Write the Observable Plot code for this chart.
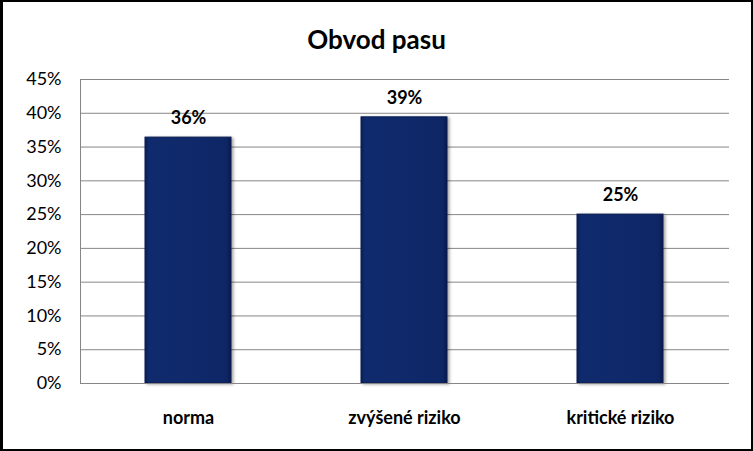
<!DOCTYPE html>
<html>
<head>
<meta charset="utf-8">
<script src="https://cdn.jsdelivr.net/npm/d3@7"></script>
<script src="https://cdn.jsdelivr.net/npm/@observablehq/plot@0.6"></script>
<style>
  html, body { margin: 0; padding: 0; background: #fff; }
  #wrap { position: relative; width: 753px; height: 451px; background: #fff; overflow: hidden; font-family: Lato, "Open Sans", sans-serif; }
  #frame { position: absolute; left: 0; top: 0; width: 753px; height: 451px; box-sizing: border-box;
           border-top: 2px solid #000; border-right: 2px solid #000; border-bottom: 2px solid #000; border-left: 3px solid #000; pointer-events: none; }
  #title { position: absolute; left: 0; top: 23px; width: 753px; text-align: center; font-size: 26px; font-weight: bold; color: #000; }
  #chart { position: absolute; left: 0; top: 60px; }
  #chart svg { font-family: Lato, "Open Sans", sans-serif; }
  #chart [aria-label="x-axis tick label"] text { font-weight: bold; }
  #chart [aria-label="bar"] rect { filter: drop-shadow(2px 1px 1.5px rgba(0,0,0,0.35)); }
</style>
</head>
<body>
<div id="wrap">
  <div id="title">Obvod pasu</div>
  <div id="chart"></div>
  <div id="frame"></div>
</div>
<script>
const categories = ["norma", "zvýšené riziko", "kritické riziko"];
const values = [0.364, 0.394, 0.250];
const valueLabels = ["36%", "39%", "25%"];
const yTicks = [0, 0.05, 0.10, 0.15, 0.20, 0.25, 0.30, 0.35, 0.40, 0.45];

const data = categories.map((c, i) => ({ cat: c, value: values[i], label: valueLabels[i] }));

const plot = Plot.plot({
  width: 753,
  height: 389,
  marginLeft: 80,
  marginRight: 24,
  marginTop: 19,
  marginBottom: 66,
  style: { background: "transparent", color: "#000", overflow: "visible" },
  x: { domain: categories, paddingInner: 0.6, paddingOuter: 0.3, label: null },
  y: { domain: [0, 0.45], label: null },
  marks: [
    Plot.gridY(yTicks, { stroke: "#868686", strokeOpacity: 1, strokeWidth: 1 }),
    Plot.barY(data, { x: "cat", y: "value", fill: "url(#barGrad)", stroke: "#0a1d52", strokeWidth: 1 }),
    Plot.text(data, { x: "cat", y: "value", text: "label", dy: -19, fontSize: 18, fontWeight: "bold", fill: "#000" }),
    Plot.axisY(yTicks, { tickFormat: d => Math.round(d * 100) + "%", tickSize: 0, tickPadding: 19, fontSize: 18, fill: "#000" }),
    Plot.axisX({ tickSize: 0, tickPadding: 28, fontSize: 18, fill: "#000", label: null }),
    Plot.ruleY([0], { stroke: "#868686" }),
    Plot.frame({ anchor: "left", stroke: "#868686", strokeOpacity: 1 })
  ]
});

const ns = "http://www.w3.org/2000/svg";
const defs = document.createElementNS(ns, "defs");
defs.innerHTML = `
  <linearGradient id="barGrad" x1="0" y1="0" x2="1" y2="0">
    <stop offset="0" stop-color="#0a1e58"/>
    <stop offset="0.05" stop-color="#102b6d"/>
    <stop offset="0.5" stop-color="#0f296a"/>
    <stop offset="0.95" stop-color="#0e2665"/>
    <stop offset="1" stop-color="#08194a"/>
  </linearGradient>`;
plot.insertBefore(defs, plot.firstChild);

document.getElementById("chart").appendChild(plot);
</script>
</body>
</html>
